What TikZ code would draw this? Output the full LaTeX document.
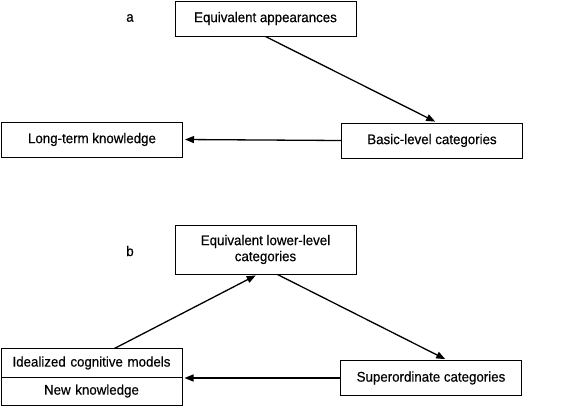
\documentclass[tikz,border=0pt]{standalone}
\usepackage{fontspec}
\setmainfont{Liberation Sans}[FakeStretch=0.95,FakeBold=0.4]
\usepackage{tikz}
\usetikzlibrary{arrows.meta}
\usetikzlibrary{shapes.multipart}

\begin{document}
\begin{tikzpicture}[x=1pt,y=-1pt,
			box/.style={draw,line width=1pt,minimum width=181pt,minimum height=35pt,
				inner sep=0pt,font=\fontsize{14}{16}\selectfont,align=center},
			lbl/.style={font=\fontsize{14}{16}\selectfont},
			arr/.style={line width=1.3pt,-{Triangle[length=9pt,width=7pt]},shorten >=2pt}]
			\useasboundingbox (0,0) rectangle (584,408);
			% panel a
			\node[lbl] (la) at (130,18) {a};
			\node[box] (appear) at (265.5,18.5) {Equivalent appearances};
			\node[box] (longterm) at (92,139.5) {Long-term knowledge};
			\node[box] (basic) at (432,140.5) {Basic-level categories};
			
			\draw[arr] (appear.south) -- ([xshift=5pt]basic.north);
			\draw[arr] (basic.west) -- (longterm.east);
			
			% panel b
			\node[lbl] (lb) at (130,251) {b};
			\node[box,minimum height=49pt] (lower) at (265.5,249.5) {Equivalent lower-level\\categories};
			\node[draw,line width=1pt,rectangle split,rectangle split parts=2,
				text width=171pt,align=center,inner xsep=5pt,inner ysep=7pt,
				font=\fontsize{14}{16}\selectfont] (ideal) at (91.5,377)
				{Idealized cognitive models\nodepart{second}New knowledge};
			\node[box] (super) at (431,378) {Superordinate categories};
			
			\draw[arr] ([xshift=23pt]ideal.north) -- ([xshift=-8pt]lower.south);
			\draw[arr] ([xshift=12pt]lower.south) -- ([xshift=16pt]super.north);
			\draw[arr] (super.west) -- (super.west -| ideal.east);
		\end{tikzpicture}
\end{document}
